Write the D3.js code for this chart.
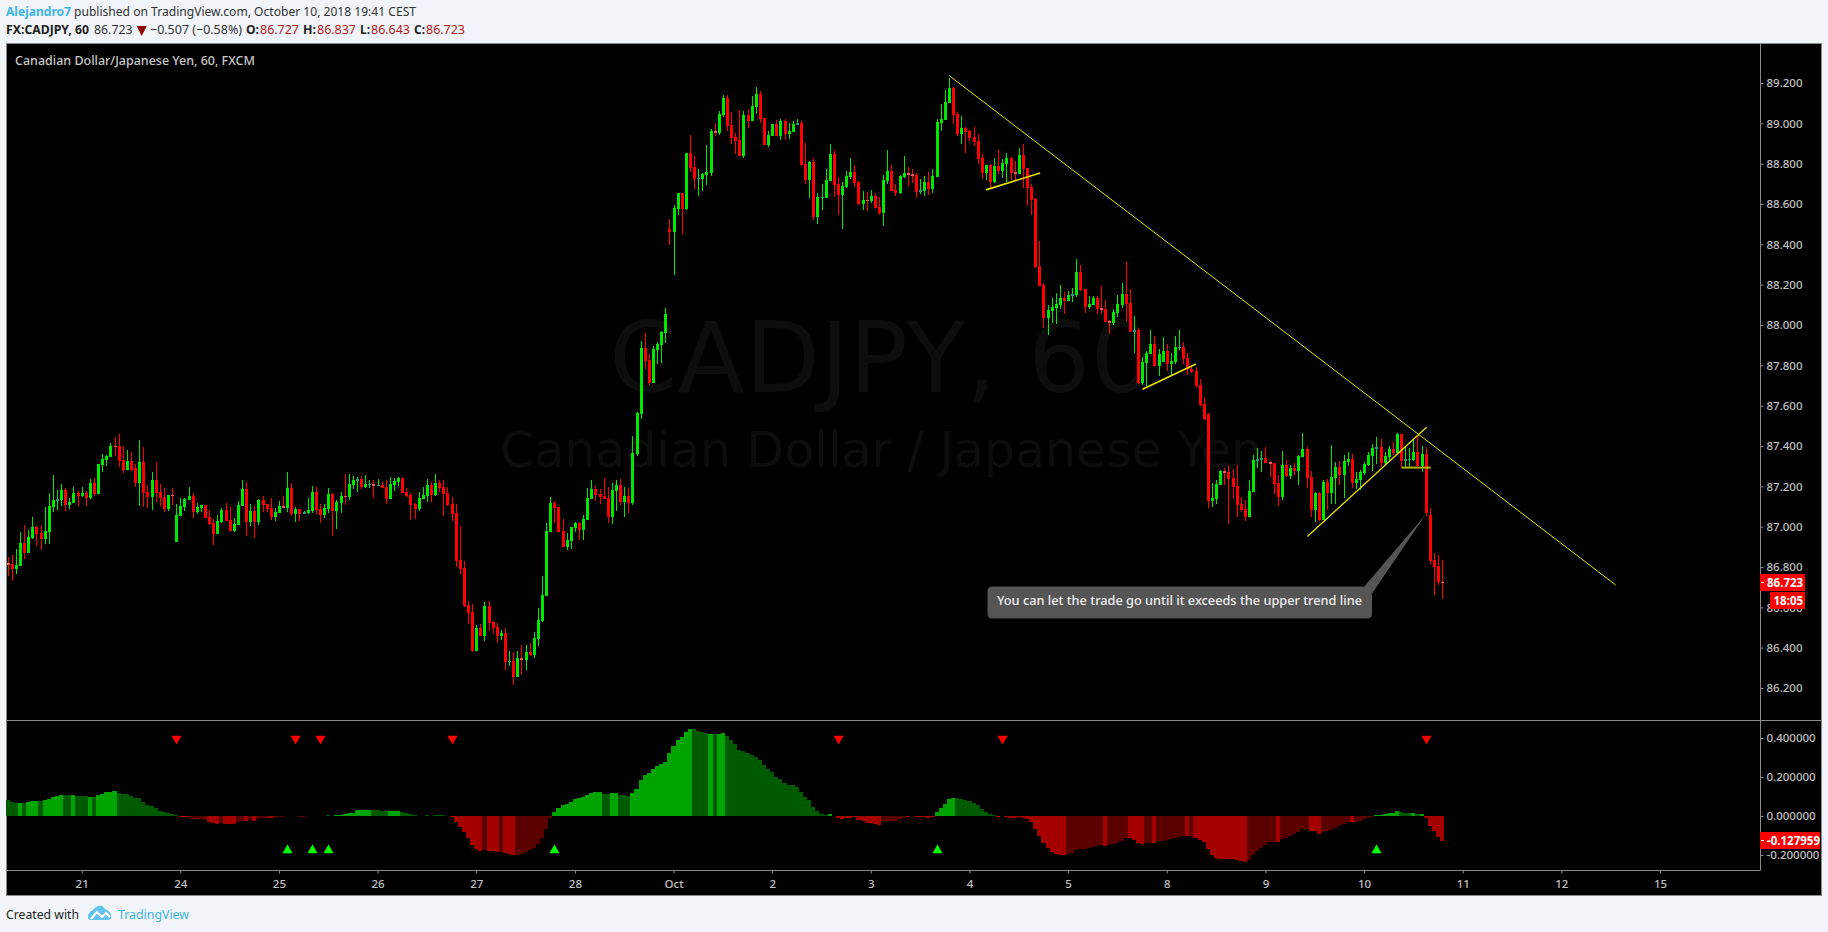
<!DOCTYPE html>
<html><head><meta charset="utf-8">
<style>
html,body{margin:0;padding:0;background:#f1f4f8;overflow:hidden}
svg{display:block}
text{font-family:"Noto Sans","DejaVu Sans",sans-serif}
</style>
<script src="https://cdn.jsdelivr.net/npm/d3@7/dist/d3.min.js"></script>
</head><body><svg id="c" width="1828" height="932"></svg>
<script>
const opens=[86.818,86.815,86.790,86.805,86.919,86.869,86.944,86.998,86.968,86.939,86.973,87.097,87.127,87.132,87.182,87.107,87.117,87.167,87.152,87.167,87.142,87.216,87.162,87.306,87.330,87.345,87.400,87.400,87.330,87.281,87.325,87.291,87.216,87.321,87.172,87.147,87.231,87.172,87.147,87.087,87.157,86.924,87.053,87.097,87.132,87.152,87.073,87.092,87.107,87.048,87.018,86.963,87.023,87.082,87.033,86.978,87.008,87.102,87.187,87.023,87.078,87.023,87.132,87.112,87.092,87.048,87.068,87.102,87.092,87.192,87.063,87.087,87.063,87.068,87.078,87.172,87.087,87.058,87.087,87.162,87.078,87.117,87.152,87.147,87.206,87.226,87.236,87.197,87.206,87.211,87.201,87.206,87.197,87.137,87.206,87.221,87.241,87.172,87.157,87.112,87.087,87.137,87.152,87.206,87.157,87.216,87.197,87.167,87.112,87.068,86.834,86.795,86.611,86.577,
86.384,86.498,86.458,86.607,86.528,86.503,86.458,86.473,86.329,86.334,86.255,86.349,86.339,86.379,86.364,86.443,86.532,86.656,86.974,87.118,87.098,86.979,86.899,86.929,86.994,87.018,86.984,87.033,87.138,87.187,87.162,87.152,87.142,87.048,87.177,87.207,87.123,87.152,87.118,87.361,87.559,87.886,87.827,87.713,87.876,87.901,87.961,
88.476,88.461,88.575,88.654,88.575,88.853,88.783,88.724,88.724,88.744,88.754,88.962,88.952,89.041,89.126,88.992,88.932,88.917,88.838,89.041,89.011,89.081,89.145,89.026,88.893,88.937,88.997,88.937,89.011,88.947,88.957,88.992,89.002,88.798,88.719,88.808,88.535,88.630,88.630,88.714,88.848,88.699,88.645,88.684,88.734,88.759,88.709,88.600,88.620,88.615,88.640,88.585,88.555,88.714,88.764,88.669,88.654,88.734,88.754,88.749,88.744,88.659,88.664,88.709,88.674,88.734,89.002,89.016,89.101,89.175,89.046,88.947,88.977,88.962,88.932,88.912,88.828,88.754,88.793,88.709,88.788,88.764,88.798,88.828,88.759,88.749,88.843,88.778,88.684,88.625,88.292,88.198,88.035,88.069,88.084,88.099,88.134,88.119,88.144,88.149,88.263,88.178,88.089,88.099,88.134,88.084,88.079,88.020,88.010,88.059,88.099,88.154,88.109,87.965,87.975,87.712,87.811,87.856,87.906,87.796,87.816,87.871,87.806,87.816,87.886,87.891,87.836,87.782,87.772,
87.703,87.608,87.559,87.127,87.137,87.207,87.276,87.271,87.241,87.202,87.112,87.088,87.048,87.172,87.326,87.331,87.341,87.321,87.316,87.217,87.147,87.306,87.251,87.291,87.276,87.346,87.385,87.246,87.083,87.167,87.033,87.222,87.167,87.241,87.296,87.256,87.321,87.336,87.217,87.232,87.266,87.306,87.351,87.385,87.395,87.316,87.346,87.385,87.365,87.460,87.326,87.331,87.331,87.370,87.301,87.360,87.058,86.835,86.805,86.727];
const highs=[86.851,86.859,86.889,86.973,87.008,86.983,87.048,87.003,87.008,87.097,87.167,87.256,87.182,87.211,87.192,87.142,87.197,87.177,87.197,87.177,87.236,87.241,87.311,87.360,87.355,87.415,87.445,87.459,87.400,87.380,87.370,87.311,87.430,87.395,87.206,87.271,87.321,87.211,87.192,87.157,87.192,87.112,87.142,87.142,87.197,87.167,87.117,87.107,87.107,87.082,87.038,87.058,87.092,87.117,87.097,87.043,87.127,87.231,87.221,87.112,87.102,87.137,87.152,87.112,87.142,87.092,87.127,87.152,87.271,87.216,87.097,87.087,87.078,87.142,87.201,87.197,87.112,87.112,87.192,87.167,87.132,87.172,87.261,87.261,87.251,87.246,87.251,87.256,87.231,87.231,87.236,87.221,87.231,87.246,87.241,87.246,87.246,87.192,87.167,87.117,87.172,87.197,87.236,87.221,87.261,87.231,87.231,87.197,87.147,87.112,87.003,86.829,86.631,86.616,
86.513,86.518,86.627,86.632,86.533,86.523,86.488,86.498,86.384,86.379,86.384,86.414,86.414,86.424,86.478,86.597,86.756,87.019,87.148,87.128,87.098,87.038,86.969,86.999,87.024,87.024,87.058,87.192,87.232,87.202,87.187,87.242,87.197,87.217,87.232,87.237,87.197,87.192,87.450,87.569,87.921,87.961,87.856,87.896,87.916,87.970,88.084,
88.525,88.595,88.654,88.654,88.853,88.942,88.838,88.773,88.754,88.893,88.972,89.002,89.061,89.140,89.140,89.056,88.952,89.066,89.061,89.071,89.135,89.180,89.160,89.026,88.962,88.997,89.016,89.021,89.021,89.002,89.011,89.021,89.011,88.902,88.813,88.828,88.654,88.699,88.773,88.897,88.868,88.734,88.709,88.764,88.828,88.793,88.714,88.664,88.659,88.669,88.654,88.635,88.744,88.868,88.793,88.699,88.744,88.838,88.783,88.773,88.754,88.724,88.739,88.759,88.773,89.021,89.096,89.165,89.225,89.180,89.056,89.036,88.982,88.967,88.982,88.947,88.848,88.793,88.798,88.828,88.868,88.823,88.853,88.833,88.813,88.878,88.897,88.778,88.699,88.630,88.416,88.208,88.099,88.134,88.159,88.198,88.163,88.168,88.183,88.327,88.297,88.178,88.144,88.144,88.144,88.193,88.124,88.025,88.079,88.149,88.208,88.312,88.178,88.045,87.985,87.841,87.871,87.975,87.945,87.881,87.940,87.906,87.861,87.945,87.975,87.915,87.861,87.791,87.791,
87.732,87.642,87.562,87.217,87.231,87.281,87.291,87.306,87.286,87.306,87.147,87.132,87.231,87.355,87.390,87.375,87.395,87.326,87.316,87.256,87.375,87.331,87.306,87.316,87.355,87.465,87.395,87.276,87.172,87.172,87.231,87.237,87.405,87.321,87.326,87.355,87.370,87.360,87.271,87.281,87.321,87.370,87.410,87.445,87.435,87.370,87.400,87.420,87.465,87.460,87.395,87.390,87.435,87.455,87.400,87.395,87.093,86.870,86.860,86.837];
const lows=[86.755,86.730,86.765,86.805,86.840,86.869,86.939,86.904,86.884,86.914,86.914,87.073,87.082,87.102,87.078,87.087,87.117,87.102,87.147,87.102,87.137,87.152,87.162,87.271,87.301,87.345,87.350,87.296,87.266,87.281,87.274,87.197,87.102,87.097,87.092,87.082,87.122,87.102,87.073,87.078,87.107,86.924,87.053,87.078,87.132,87.043,87.063,87.073,87.043,87.008,86.909,86.963,87.018,87.028,86.978,86.973,87.008,87.102,86.954,87.003,86.944,87.008,87.073,87.073,87.033,87.028,87.068,87.092,87.073,87.053,87.023,87.028,87.063,87.063,87.068,87.063,87.018,87.043,87.068,86.954,86.988,87.068,87.107,87.132,87.187,87.172,87.187,87.192,87.192,87.142,87.201,87.192,87.112,87.137,87.177,87.201,87.167,87.147,87.033,87.038,87.078,87.137,87.122,87.122,87.152,87.172,87.053,87.102,87.028,86.800,86.765,86.601,86.517,86.378,
86.384,86.458,86.433,86.483,86.468,86.423,86.438,86.289,86.309,86.215,86.255,86.265,86.289,86.359,86.349,86.408,86.527,86.656,86.974,87.018,86.974,86.899,86.884,86.889,86.974,86.934,86.934,87.033,87.138,87.128,87.113,87.138,87.018,87.013,87.078,87.108,87.048,87.068,87.108,87.351,87.534,87.782,87.703,87.713,87.807,87.812,87.911,
88.396,88.248,88.545,88.451,88.570,88.759,88.674,88.640,88.664,88.694,88.739,88.937,88.942,89.031,88.962,88.897,88.848,88.838,88.828,88.977,89.011,89.046,89.002,88.893,88.883,88.937,88.937,88.917,88.917,88.922,88.957,88.992,88.788,88.699,88.630,88.521,88.501,88.570,88.630,88.714,88.635,88.545,88.476,88.679,88.724,88.684,88.595,88.570,88.565,88.605,88.580,88.545,88.491,88.699,88.664,88.640,88.649,88.729,88.689,88.704,88.630,88.649,88.640,88.645,88.654,88.734,88.962,89.016,89.101,88.997,88.937,88.897,88.853,88.912,88.887,88.798,88.724,88.719,88.679,88.704,88.749,88.729,88.709,88.719,88.719,88.749,88.679,88.590,88.545,88.283,88.193,87.985,87.950,88.010,88.005,88.079,88.054,88.119,88.114,88.139,88.168,88.059,88.079,88.099,88.054,88.054,88.015,87.955,88.000,88.040,88.084,88.020,87.965,87.861,87.707,87.702,87.697,87.856,87.791,87.747,87.816,87.772,87.747,87.806,87.876,87.806,87.752,87.762,87.687,
87.598,87.529,87.093,87.098,87.113,87.207,87.207,87.013,87.137,87.048,87.073,87.028,87.048,87.172,87.291,87.271,87.316,87.246,87.162,87.103,87.132,87.246,87.237,87.256,87.207,87.346,87.192,87.048,87.023,87.028,87.033,87.083,87.113,87.113,87.207,87.142,87.301,87.192,87.187,87.182,87.256,87.301,87.276,87.311,87.296,87.311,87.326,87.355,87.360,87.291,87.296,87.296,87.326,87.301,87.271,87.053,86.815,86.661,86.711,86.643];
const closes=[86.811,86.790,86.810,86.919,86.869,86.949,86.998,86.963,86.939,86.978,87.102,87.132,87.137,87.182,87.107,87.122,87.167,87.152,87.167,87.142,87.216,87.162,87.311,87.335,87.350,87.400,87.395,87.325,87.281,87.325,87.281,87.216,87.321,87.167,87.147,87.231,87.167,87.142,87.087,87.157,87.152,87.058,87.102,87.137,87.152,87.073,87.097,87.107,87.043,87.013,86.963,87.028,87.082,87.028,86.978,87.013,87.107,87.187,87.023,87.078,87.023,87.132,87.107,87.087,87.048,87.073,87.102,87.092,87.192,87.063,87.087,87.063,87.073,87.082,87.172,87.082,87.058,87.092,87.162,87.078,87.122,87.152,87.147,87.211,87.231,87.236,87.197,87.211,87.211,87.201,87.206,87.192,87.137,87.211,87.226,87.241,87.167,87.152,87.107,87.087,87.142,87.157,87.206,87.157,87.216,87.192,87.162,87.107,87.063,86.829,86.790,86.606,86.571,86.383,
86.498,86.458,86.607,86.523,86.498,86.458,86.473,86.329,86.334,86.255,86.349,86.339,86.379,86.364,86.448,86.538,86.662,86.979,87.118,87.093,86.974,86.899,86.934,86.999,87.019,86.984,87.038,87.143,87.187,87.157,87.147,87.138,87.048,87.182,87.207,87.123,87.152,87.118,87.366,87.564,87.886,87.822,87.713,87.881,87.906,87.965,88.055,
88.461,88.580,88.654,88.575,88.853,88.778,88.724,88.729,88.749,88.759,88.962,88.952,89.046,89.126,88.987,88.927,88.912,88.838,89.041,89.011,89.086,89.145,89.021,88.893,88.942,88.997,88.937,89.011,88.947,88.962,88.997,89.002,88.793,88.719,88.808,88.535,88.635,88.635,88.719,88.848,88.694,88.645,88.689,88.739,88.759,88.704,88.600,88.620,88.615,88.640,88.580,88.555,88.719,88.764,88.664,88.654,88.739,88.754,88.745,88.739,88.659,88.669,88.709,88.674,88.739,89.007,89.021,89.106,89.175,89.041,88.947,88.977,88.957,88.927,88.907,88.823,88.754,88.793,88.709,88.788,88.764,88.803,88.828,88.754,88.749,88.843,88.773,88.679,88.620,88.287,88.193,88.035,88.074,88.089,88.104,88.134,88.119,88.149,88.154,88.263,88.173,88.089,88.104,88.134,88.079,88.074,88.015,88.010,88.064,88.104,88.154,88.104,87.965,87.975,87.712,87.816,87.861,87.906,87.796,87.856,87.871,87.806,87.821,87.891,87.891,87.831,87.782,87.767,87.697,
87.603,87.534,87.127,87.142,87.212,87.276,87.266,87.236,87.197,87.107,87.083,87.048,87.177,87.331,87.336,87.341,87.316,87.311,87.212,87.147,87.306,87.251,87.291,87.276,87.350,87.385,87.241,87.083,87.167,87.033,87.222,87.167,87.246,87.296,87.256,87.326,87.336,87.217,87.236,87.271,87.311,87.355,87.390,87.395,87.316,87.350,87.385,87.365,87.460,87.326,87.336,87.336,87.370,87.301,87.360,87.068,86.830,86.800,86.725,86.723];
const histogram=[.082,.074,.068,.067,.065,.074,.077,.077,.077,.082,.089,.096,.103,.108,.108,.108,.108,.104,.103,.103,.099,.099,.109,.115,.121,.125,.128,.120,.113,.111,.103,.094,.091,.072,.056,.051,.039,.027,.019,.014,.009,.003,-.005,-.007,-.007,-.015,-.015,-.017,-.021,-.029,-.038,-.041,-.038,-.041,-.043,-.041,-.031,-.026,-.026,-.021,-.026,-.017,-.012,-.012,-.009,-.009,-.007,-.005,0,0,0,-.003,-.003,-.002,0,0,.002,.002,.003,0,.003,.003,.009,.014,.017,.029,.031,.031,.031,.031,.031,.026,.026,.026,.026,.026,.021,.015,.009,.003,0,0,.005,.002,.005,.005,.003,0,-.003,-.031,-.055,-.084,-.113,-.149,-.169,-.179,-.176,-.178,-.179,-.183,-.185,-.188,-.193,-.200,-.200,-.193,-.185,-.174,-.162,-.145,-.115,-.065,-.012,.021,.041,.056,.063,.074,.085,.091,.096,.106,.120,.123,.123,.113,.113,.118,.118,.109,.106,.103,.120,.138,.185,.210,.219,.241,.256,.267,.279,.325,.361,.390,.403,.429,.446,.444,.438,.432,.424,.422,.422,.422,.426,.410,.390,.369,.338,.335,.321,.313,.304,.287,.262,.239,.227,.198,.188,.168,.161,.159,.147,.125,.096,.082,.046,.026,.009,.003,.010,0,-.009,-.015,-.012,-.009,-.007,-.019,-.027,-.034,-.038,-.039,-.046,-.026,-.026,-.026,-.024,-.014,-.009,-.003,-.002,-.003,-.005,-.007,-.009,-.003,.021,.041,.062,.089,.092,.091,.085,.082,.077,.068,.055,.038,.022,.010,.003,-.003,-.002,-.005,-.009,-.009,-.007,-.009,-.015,-.029,-.068,-.103,-.140,-.164,-.185,-.197,-.200,-.200,-.195,-.188,-.174,-.171,-.169,-.164,-.157,-.152,-.149,-.154,-.149,-.144,-.137,-.126,-.113,-.115,-.123,-.140,-.144,-.140,-.140,-.139,-.128,-.126,-.123,-.120,-.115,-.106,-.103,-.103,-.103,-.115,-.123,-.132,-.169,-.200,-.214,-.219,-.221,-.221,-.222,-.226,-.231,-.234,-.226,-.200,-.178,-.164,-.149,-.133,-.133,-.132,-.118,-.111,-.101,-.092,-.082,-.067,-.067,-.075,-.077,-.091,-.080,-.077,-.072,-.063,-.053,-.043,-.031,-.029,-.029,-.024,-.017,-.010,-.003,.003,.003,.010,.014,.015,.024,.019,.014,.014,.015,.010,.009,-.009,-.051,-.077,-.108,-.127959];
const darkRanges=[[0,2],[4,4],[8,8],[14,15],[17,19],[21,21],[27,41],[45,48],[52,52],[56,57],[59,59],[61,63],[65,79],[89,92],[96,107],[116,116],[120,120],[124,132],[145,146],[149,151],[167,170],[172,172],[175,199],[213,218],[231,240],[258,266],[268,272],[277,278],[280,286],[288,288],[302,308],[310,316],[320,326],[328,332],[339,341],[343,343]];
const sellSignals=[41,70,76,108,202,242,345];
const buySignals=[68,74,78,133,226,333];
const dayTickBars=[18,42,66,90,114,138,162,186,210,234,258,282,306,330,354,378,402];
const dayTickLabels=["21","24","25","26","27","28","Oct","2","3","4","5","8","9","10","11","12","15"];
const priceTicks=[89.2,89,88.8,88.6,88.4,88.2,88,87.8,87.6,87.4,87.2,87,86.8,86.6,86.4,86.2];
const indicatorTicks=[.4,.2,0,-.2];
const trendlines=[[229.1,89.236,391.2,86.711,1],[238,88.67,251.2,88.754,1.6],[276.1,87.681,289.1,87.807,1.6],[316.2,86.951,345.2,87.493,1.3]];
const flatLine=[339.2,87.293,346.2,87.293];
const callout={bar:345,price:87.06,text:"You can let the trade go until it exceeds the upper trend line"};

const svg=d3.select("#c");
const xS=d3.scaleLinear().domain([0,402]).range([7.67,1660]);
const yP=d3.scaleLinear().domain([89.2,86.2]).range([83,688]);
const yI=d3.scaleLinear().domain([.4,-.2]).range([738,855]);
const L=6.5,R=1821.5,T=43.5,B=895.5,DIV=1760.5,PANE=720.5,AX=870.5;

svg.append("rect").attr("x",L).attr("y",T).attr("width",R-L).attr("height",B-T).attr("fill","#000").attr("stroke","#8a8a8a");
// watermark
const wm=svg.append("g").attr("fill","#0d0d0d").attr("text-anchor","middle");
wm.append("text").attr("x",881).attr("y",392).attr("font-size",98).style("font-family","DejaVu Sans").text("CADJPY, 60");
wm.append("text").attr("x",881).attr("y",467).attr("font-size",49).style("font-family","DejaVu Sans").text("Canadian Dollar / Japanese Yen");

// candles
const idx=d3.range(opens.length);
const px=i=>Math.round(xS(i));
const g=svg.append("g").attr("shape-rendering","crispEdges");
const colorOf=i=>{const up=closes[i]>=opens[i],small=Math.abs(yP(opens[i])-yP(closes[i]))<2.5;
 return up?(small?"#2c9a86":"#00e800"):(small?"#ee5a5a":"#ff0000");};
g.selectAll("rect.w").data(idx).join("rect").attr("class","w").attr("x",px).attr("width",1)
 .attr("y",i=>Math.round(yP(highs[i]))).attr("height",i=>Math.max(1,Math.round(yP(lows[i]))-Math.round(yP(highs[i]))))
 .attr("fill",i=>closes[i]>=opens[i]?"#00e800":"#ff0000");
g.selectAll("rect.b").data(idx).join("rect").attr("class","b").attr("x",i=>px(i)-1).attr("width",3)
 .attr("y",i=>Math.round(yP(Math.max(opens[i],closes[i]))))
 .attr("height",i=>Math.max(1,Math.round(yP(Math.min(opens[i],closes[i])))-Math.round(yP(Math.max(opens[i],closes[i])))))
 .attr("fill",colorOf);

// trend lines
svg.append("g").selectAll("line").data(trendlines).join("line")
 .attr("x1",d=>xS(d[0])).attr("y1",d=>yP(d[1])).attr("x2",d=>xS(d[2])).attr("y2",d=>yP(d[3]))
 .attr("stroke","#e6e600").attr("stroke-width",d=>d[4]);
svg.append("line").attr("x1",xS(flatLine[0])).attr("y1",yP(flatLine[1])).attr("x2",xS(flatLine[2])).attr("y2",yP(flatLine[3]))
 .attr("stroke","#b4b400").attr("stroke-width",2);

// callout
const bx=987.5,bw=384.5,by=586.5,bh=32;
svg.append("path").attr("fill","#555").attr("d",`M${bx+5},${by}H${1364.3}L${xS(callout.bar)},${yP(callout.price)}L${bx+bw},${by+7}V${by+bh-5}Q${bx+bw},${by+bh} ${bx+bw-5},${by+bh}H${bx+5}Q${bx},${by+bh} ${bx},${by+bh-5}V${by+5}Q${bx},${by} ${bx+5},${by}Z`);
svg.append("text").attr("x",997).attr("y",605).attr("fill","#eee").attr("font-size",12.5).attr("font-weight",500)
 .attr("textLength",365).attr("lengthAdjust","spacingAndGlyphs").text(callout.text);

// histogram
const isDark=i=>darkRanges.some(r=>i>=r[0]&&i<=r[1]);
const h=svg.append("g").attr("shape-rendering","crispEdges");
h.selectAll("rect").data(idx).join("rect")
 .attr("x",i=>Math.round(xS(i-.5))).attr("width",i=>Math.round(xS(i+.5))-Math.round(xS(i-.5)))
 .attr("y",i=>Math.round(yI(Math.max(histogram[i],0)))).attr("height",i=>Math.abs(Math.round(yI(histogram[i]))-Math.round(yI(0))))
 .attr("fill",i=>histogram[i]>=0?(isDark(i)?"#005a00":"#00a400"):(isDark(i)?"#5a0000":"#a40000"));
// signals
const tri=d3.symbol().type(d3.symbolTriangle).size(44);
svg.append("g").selectAll("path").data(sellSignals).join("path").attr("d",tri).attr("fill","#ff0000")
 .attr("transform",d=>`translate(${px(d)+.5},${yI(.396)}) rotate(180)`);
svg.append("g").selectAll("path").data(buySignals).join("path").attr("d",tri).attr("fill","#00ff00")
 .attr("transform",d=>`translate(${px(d)+.5},${yI(-.176)})`);

// frame lines
const frame=svg.append("g").attr("stroke","#8a8a8a");
frame.append("line").attr("x1",DIV).attr("x2",DIV).attr("y1",T).attr("y2",AX);
frame.append("line").attr("x1",L).attr("x2",R).attr("y1",PANE).attr("y2",PANE);
frame.append("line").attr("x1",L).attr("x2",DIV).attr("y1",AX).attr("y2",AX);

// axes
function style(a){a.select(".domain").remove();a.selectAll("line").attr("stroke","#8a8a8a");
 a.selectAll("text").attr("fill","#c2c2c2").style("font-family",'"Noto Sans"').attr("font-size",11.5).attr("font-weight",500);}
const axP=svg.append("g").attr("transform",`translate(${DIV},0)`).call(d3.axisRight(yP).tickValues(priceTicks).tickSize(3).tickPadding(3).tickFormat(d3.format(".3f")));style(axP);
const axI=svg.append("g").attr("transform",`translate(${DIV},0)`).call(d3.axisRight(yI).tickValues(indicatorTicks).tickSize(3).tickPadding(3).tickFormat(d=>(d<0?"-":"")+d3.format(".6f")(Math.abs(d))));style(axI);
const axX=svg.append("g").attr("transform",`translate(0,${AX})`).call(d3.axisBottom(xS).tickValues(dayTickBars).tickSize(3).tickPadding(6).tickFormat((d,i)=>dayTickLabels[i]));style(axX);

// value flags
function flag(x,y,w,h,t,tx){svg.append("rect").attr("x",x).attr("y",y).attr("width",w).attr("height",h).attr("fill","#ff0000");
 svg.append("text").attr("x",tx).attr("y",y+h/2+4).attr("fill","#fff").attr("font-size",11.5).attr("font-weight",700).text(t);}
flag(1760,574,45,17,"86.723",1767);
svg.append("rect").attr("x",1761).attr("y",582).attr("width",3).attr("height",1).attr("fill","#fff");
flag(1770,592,35,17,"18:05",1773.5);
flag(1760,832,60,17,"-0.127959",1767);
svg.append("rect").attr("x",1761).attr("y",840).attr("width",3).attr("height",1).attr("fill","#fff");

// titles
svg.append("text").attr("x",15).attr("y",64.5).attr("fill","#c8c8c8").attr("font-size",12.5).attr("font-weight",500)
 .attr("textLength",240).attr("lengthAdjust","spacingAndGlyphs").text("Canadian Dollar/Japanese Yen, 60, FXCM");
function seg(x,y,w,t,c,b){svg.append("text").attr("x",x).attr("y",y).attr("fill",c).attr("font-size",13)
 .attr("font-weight",b?700:400).attr("textLength",w).attr("lengthAdjust","spacingAndGlyphs").text(t);}
seg(6,16,65,"Alejandro7","#3cb4e6",true);
seg(74,16,342,"published on TradingView.com, October 10, 2018 19:41 CEST","#333",false);
seg(6,34,83,"FX:CADJPY, 60","#222",true);
seg(94,34,38.5,"86.723","#333",false);
svg.append("path").attr("d","M136.7,26H146.7L141.7,36Z").attr("fill","#8b0000");
seg(150,34,92,"\u22120.507 (\u22120.58%)","#333",false);
seg(246,34,13,"O:","#222",true);seg(260,34,39,"86.727","#b21818",false);
seg(303,34,13,"H:","#222",true);seg(317,34,39,"86.837","#b21818",false);
seg(360,34,10,"L:","#222",true);seg(371,34,39,"86.643","#b21818",false);
seg(414,34,11,"C:","#222",true);seg(426,34,39,"86.723","#b21818",false);

// footer
seg(6,919,73,"Created with","#222",false);
const logo=svg.append("g");
logo.append("path").attr("fill","#62c3ec").attr("d","M88,917C88,913 91,911 93,910C95,907 99,905 102,906C104,908 105,909 107,910C110,912 112,914 111,917Q111,920 108,920H91Q88,920 88,917Z");
logo.append("path").attr("fill","none").attr("stroke","#fff").attr("stroke-width",2).attr("d","M91,919L97,912L102,917L106,913L110,917");
seg(118,919,71,"TradingView","#3cb4e6",false);
</script></body></html>
